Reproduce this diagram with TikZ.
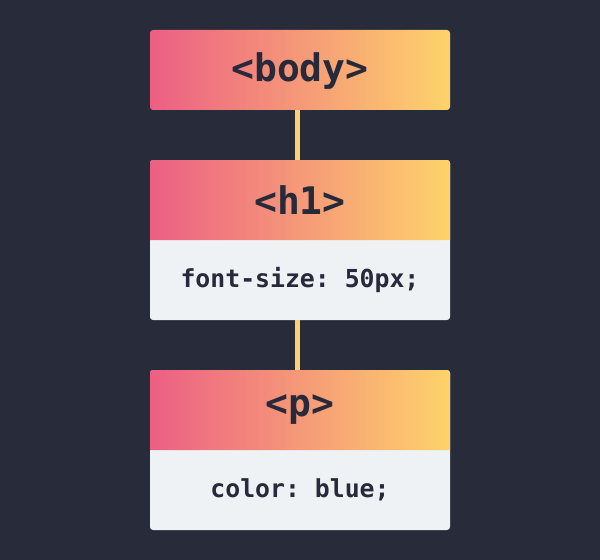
\documentclass[tikz,border=0pt]{standalone}
\usepackage{fontspec}
\setmonofont{DejaVu Sans Mono}
\definecolor{bgc}{HTML}{282B3A}
\definecolor{pinkc}{HTML}{EC5F84}
\definecolor{yellowc}{HTML}{FED36B}
\definecolor{lightc}{HTML}{EEF2F5}
\definecolor{txtc}{HTML}{262A3A}
\definecolor{connc}{HTML}{FDD26E}
\begin{document}
\begin{tikzpicture}[x=0.75pt,y=-0.75pt,
  bigtxt/.style={text=txtc,font=\ttfamily\bfseries\fontsize{28.5}{32}\selectfont,inner sep=0pt},
  smalltxt/.style={text=txtc,font=\ttfamily\bfseries\fontsize{18.6}{22}\selectfont,inner sep=0pt},
  gradbox/.style={left color=pinkc,right color=yellowc,rounded corners=2.25pt,minimum width=225pt,minimum height=60pt,inner sep=0pt},
  cardbox/.style={fill=lightc,rounded corners=2.25pt,minimum width=225pt,minimum height=120pt,inner sep=0pt},
  hdr/.style={left color=pinkc,right color=yellowc},
  conn/.style={draw=connc,line width=3.75pt}]
\fill[bgc] (0,0) rectangle (600,560);
% body
\node[gradbox] (bodybox) at (300,70) {};
\node[bigtxt] (body) at (300,71) {<body>};
% h1 card
\node[cardbox] (h1box) at (300,240) {};
\shade[hdr] (150,200) [rounded corners=2.25pt] -- (150,160) -- (450,160) -- (450,200) [sharp corners] -- (450,240) -- (150,240) -- cycle;
\node[bigtxt] (h1) at (300,200) {<h1>};
\node[smalltxt] (h1css) at (300,280) {font-size: 50px;};
% p card
\node[cardbox] (pbox) at (300,450) {};
\shade[hdr] (150,410) [rounded corners=2.25pt] -- (150,370) -- (450,370) -- (450,410) [sharp corners] -- (450,450) -- (150,450) -- cycle;
\node[bigtxt] (p) at (300,410) {<p>};
\node[smalltxt] (pcss) at (300,490) {color: blue;};
% connectors
\draw[conn] ([xshift=-1.875pt]bodybox.south) -- ([xshift=-1.875pt]h1box.north);
\draw[conn] ([xshift=-1.875pt]h1box.south) -- ([xshift=-1.875pt]pbox.north);
\end{tikzpicture}
\end{document}
